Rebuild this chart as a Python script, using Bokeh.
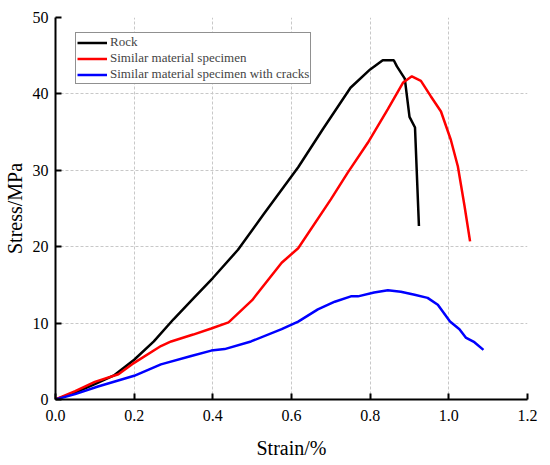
from bokeh.plotting import figure
from bokeh.models import Range1d, FixedTicker, NumeralTickFormatter, Legend, LegendItem
from bokeh.embed import file_html
from bokeh.resources import INLINE

rock_x = [0, 0.05, 0.1, 0.15, 0.2, 0.25, 0.3, 0.35, 0.4, 0.464, 0.53, 0.617, 0.68, 0.75, 0.8, 0.832, 0.86, 0.868, 0.888, 0.9, 0.914, 0.924]
rock_y = [0, 0.9, 2.0, 3.2, 5.2, 7.6, 10.5, 13.2, 15.9, 19.6, 24.3, 30.4, 35.4, 40.8, 43.2, 44.4, 44.4, 43.6, 42.0, 37.0, 35.6, 22.7]

red_x = [0, 0.05, 0.1, 0.16, 0.2, 0.268, 0.294, 0.35, 0.396, 0.44, 0.5, 0.575, 0.617, 0.7, 0.743, 0.794, 0.845, 0.884, 0.906, 0.929, 0.954, 0.98, 1.005, 1.023, 1.04, 1.054]
red_y = [0, 1.1, 2.3, 3.3, 4.8, 7.0, 7.6, 8.5, 9.3, 10.1, 13.0, 17.9, 19.8, 26.2, 29.7, 33.6, 38.0, 41.5, 42.3, 41.7, 39.7, 37.7, 34.0, 30.5, 25.3, 20.7]

blue_x = [0, 0.05, 0.108, 0.2, 0.268, 0.345, 0.396, 0.43, 0.497, 0.575, 0.617, 0.667, 0.71, 0.751, 0.769, 0.81, 0.845, 0.878, 0.913, 0.946, 0.972, 1.003, 1.027, 1.043, 1.065, 1.088]
blue_y = [0, 0.7, 1.7, 3.1, 4.6, 5.7, 6.4, 6.6, 7.6, 9.2, 10.2, 11.8, 12.8, 13.5, 13.5, 14.0, 14.3, 14.1, 13.7, 13.3, 12.4, 10.2, 9.2, 8.1, 7.5, 6.5]

x_ticks = [0, 0.2, 0.4, 0.6, 0.8, 1.0, 1.2]
y_ticks = [0, 10, 20, 30, 40, 50]
series_names = ["Rock", "Similar material specimen", "Similar material specimen with cracks"]

FONT = "Liberation Serif"

p = figure(frame_width=472, frame_height=382, output_backend="svg", toolbar_location=None,
           x_range=Range1d(0, 1.2), y_range=Range1d(0, 50),
           min_border_left=50, min_border_right=12, min_border_top=17, min_border_bottom=50)
p.outline_line_color = None
p.background_fill_color = "white"

r1 = p.line(rock_x, rock_y, line_color="#000000", line_width=2.5)
r2 = p.line(red_x, red_y, line_color="#ff0000", line_width=2.5)
r3 = p.line(blue_x, blue_y, line_color="#0000ff", line_width=2.5)

for ax in (p.xaxis[0], p.yaxis[0]):
    ax.axis_line_width = 2
    ax.axis_line_color = "black"
    ax.major_tick_line_width = 2
    ax.major_tick_line_color = "black"
    ax.major_tick_in = 6
    ax.major_tick_out = 0
    ax.minor_tick_line_color = None
    ax.major_label_text_font = FONT
    ax.major_label_text_font_size = "16px"
    ax.major_label_text_color = "black"
    ax.axis_label_text_font = FONT
    ax.axis_label_text_font_size = "20px"
    ax.axis_label_text_font_style = "normal"
    ax.axis_label_text_color = "black"

p.xaxis.ticker = FixedTicker(ticks=x_ticks)
p.xaxis.formatter = NumeralTickFormatter(format="0.0")
p.yaxis.ticker = FixedTicker(ticks=y_ticks)
p.xaxis.axis_label = "Strain/%"
p.yaxis.axis_label = "Stress/MPa"
p.xaxis.major_label_standoff = 10
p.yaxis.major_label_standoff = 7
p.xaxis.axis_label_standoff = 13
p.yaxis.axis_label_standoff = 4

p.xgrid.ticker = FixedTicker(ticks=x_ticks[1:-1])
p.ygrid.ticker = FixedTicker(ticks=y_ticks[1:-1])
for g in (p.xgrid[0], p.ygrid[0]):
    g.grid_line_color = "#c8c8c8"
    g.grid_line_dash = "3 2"
    g.grid_line_width = 1

legend = Legend(items=[LegendItem(label=series_names[0], renderers=[r1]),
                       LegendItem(label=series_names[1], renderers=[r2]),
                       LegendItem(label=series_names[2], renderers=[r3])],
                location=(20, 315))
legend.label_text_font = FONT
legend.label_text_font_size = "13px"
legend.label_height = 15
legend.glyph_height = 15
legend.glyph_width = 30
legend.label_standoff = 3
legend.spacing = 0
legend.padding = 1
legend.margin = 0
legend.border_line_color = "#222222"
legend.border_line_width = 1
legend.background_fill_alpha = 1
p.add_layout(legend, "center")

open("out.html", "w").write(file_html(p, INLINE))
